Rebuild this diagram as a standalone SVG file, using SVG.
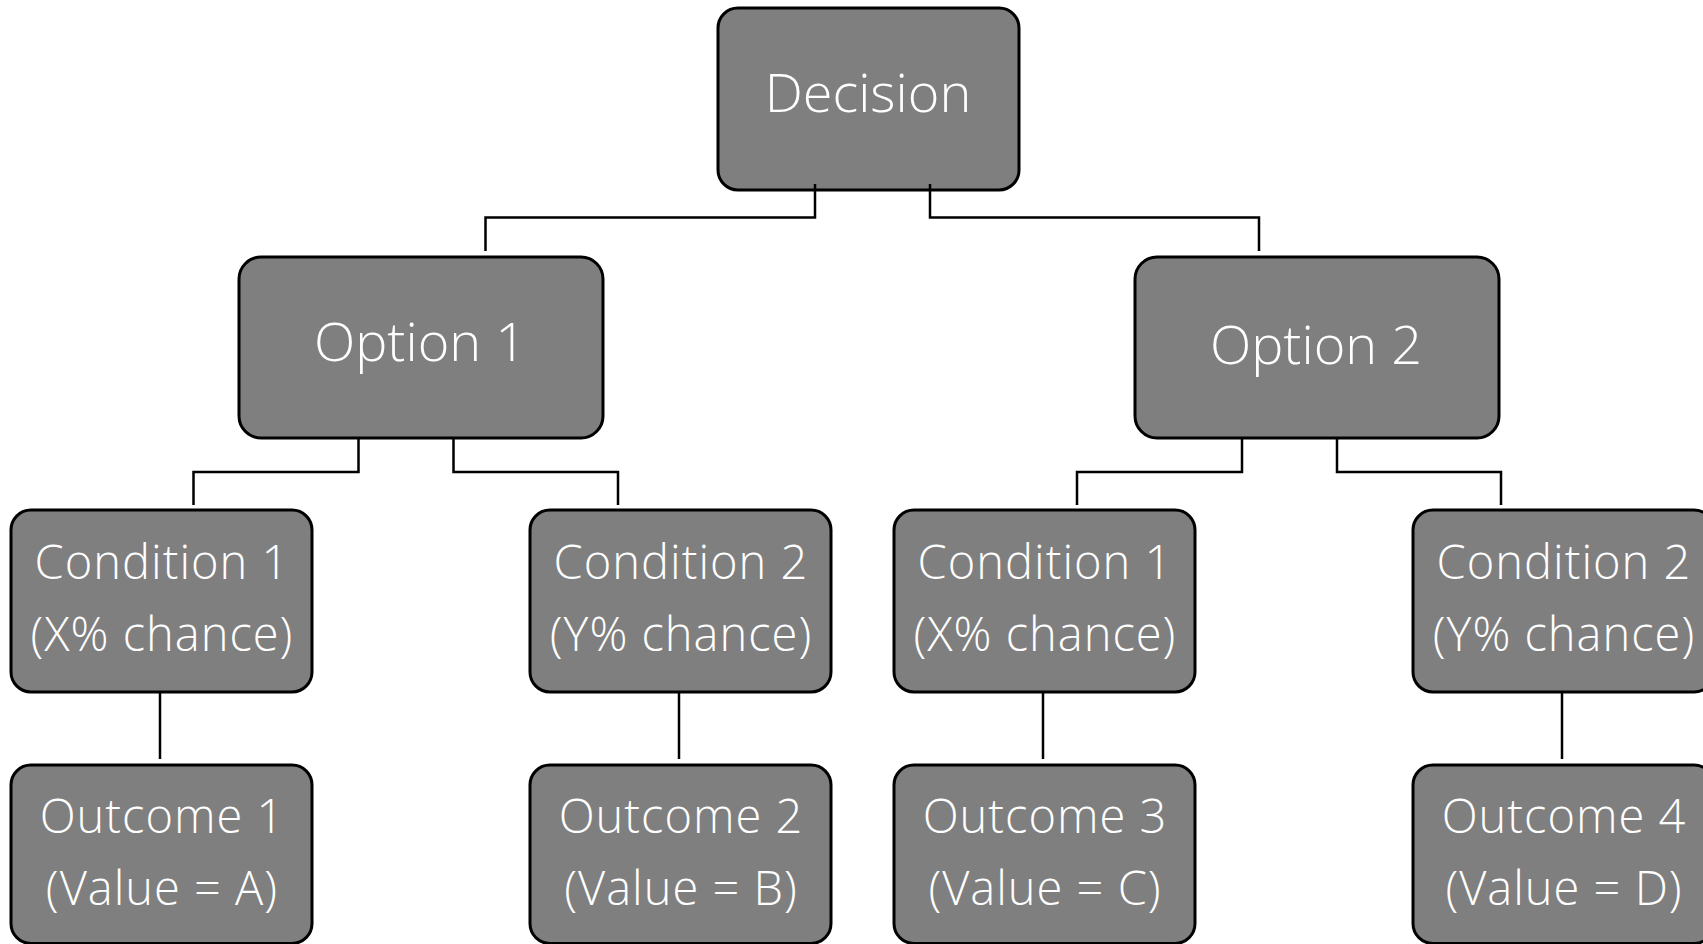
<svg xmlns="http://www.w3.org/2000/svg" width="1703" height="944" viewBox="0 0 1703 944">
<style>
.box{fill:#7f7f7f;stroke:#000;stroke-width:3}
.lbl{fill:#fff;font-family:"Open Sans","Noto Sans","Liberation Sans",sans-serif;font-weight:300;text-anchor:middle}
.big{font-size:54px}
.sm{font-size:47px;letter-spacing:1px}
.conn{fill:none;stroke:#000;stroke-width:2.5}
</style>
<rect width="1703" height="944" fill="#fff"/>
<g id="decision"><rect class="box" x="718" y="8" width="301" height="182" rx="20"/><text class="lbl big" x="868" y="112">Decision</text></g>
<g id="option1"><rect class="box" x="239" y="257" width="364" height="181" rx="22"/><text class="lbl big" x="420" y="361">Option 1</text></g>
<g id="option2"><rect class="box" x="1135" y="257" width="364" height="181" rx="22"/><text class="lbl big" x="1316" y="364">Option 2</text></g>
<g id="cond1a"><rect class="box" x="11" y="510" width="301" height="182" rx="20"/><text class="lbl sm" x="162" y="578.5">Condition 1</text><text class="lbl sm" x="162" y="651">(X% chance)</text></g>
<g id="cond2a"><rect class="box" x="530" y="510" width="301" height="182" rx="20"/><text class="lbl sm" x="681" y="578.5">Condition 2</text><text class="lbl sm" x="681" y="651">(Y% chance)</text></g>
<g id="cond1b"><rect class="box" x="894" y="510" width="301" height="182" rx="20"/><text class="lbl sm" x="1045" y="578.5">Condition 1</text><text class="lbl sm" x="1045" y="651">(X% chance)</text></g>
<g id="cond2b"><rect class="box" x="1413" y="510" width="301" height="182" rx="20"/><text class="lbl sm" x="1564" y="578.5">Condition 2</text><text class="lbl sm" x="1564" y="651">(Y% chance)</text></g>
<g id="out1"><rect class="box" x="11" y="765" width="301" height="178.5" rx="20"/><text class="lbl sm" x="162" y="833">Outcome 1</text><text class="lbl sm" x="162" y="905">(Value = A)</text></g>
<g id="out2"><rect class="box" x="530" y="765" width="301" height="178.5" rx="20"/><text class="lbl sm" x="681" y="833">Outcome 2</text><text class="lbl sm" x="681" y="905">(Value = B)</text></g>
<g id="out3"><rect class="box" x="894" y="765" width="301" height="178.5" rx="20"/><text class="lbl sm" x="1045" y="833">Outcome 3</text><text class="lbl sm" x="1045" y="905">(Value = C)</text></g>
<g id="out4"><rect class="box" x="1413" y="765" width="301" height="178.5" rx="20"/><text class="lbl sm" x="1564" y="833">Outcome 4</text><text class="lbl sm" x="1564" y="905">(Value = D)</text></g>
<g id="connectors">
<path class="conn" d="M815,184V217.5H485.5V251"/>
<path class="conn" d="M930,184V217.5H1259V251"/>
<path class="conn" d="M358.5,438V472H193.5V505"/>
<path class="conn" d="M453.5,438V472H618V505"/>
<path class="conn" d="M1242,438V472H1077V505"/>
<path class="conn" d="M1337,438V472H1501V505"/>
<path class="conn" d="M160,692V759"/>
<path class="conn" d="M679,692V759"/>
<path class="conn" d="M1043,692V759"/>
<path class="conn" d="M1562,692V759"/>
</g>
</svg>
